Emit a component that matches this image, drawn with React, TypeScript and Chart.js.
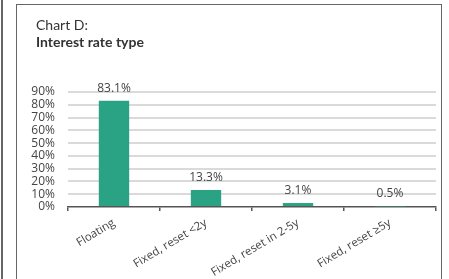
import React, { useEffect, useRef } from "react";
import { Chart, registerables } from "chart.js";

Chart.register(...registerables);

const categories = ["Floating", "Fixed, reset <2y", "Fixed, reset in 2-5y", "Fixed, reset \u22655y"];
const shares = [83.1, 13.3, 3.1, 0.5];
const yTicks = [0, 10, 20, 30, 40, 50, 60, 70, 80, 90];
const titleLine = "Chart D:";
const subtitleLine = "Interest rate type";

const FONT = "'Open Sans', 'DejaVu Sans', sans-serif";
const TITLE_FONT = "Lato, 'Open Sans', sans-serif";
const TEXT = "#444444";

const valueLabels = {
  id: "valueLabels",
  afterDatasetsDraw(chart: any) {
    const ctx = chart.ctx;
    const meta = chart.getDatasetMeta(0);
    ctx.save();
    ctx.font = `12px ${FONT}`;
    ctx.fillStyle = TEXT;
    ctx.textAlign = "center";
    ctx.textBaseline = "middle";
    meta.data.forEach((bar: any, i: number) => {
      ctx.fillText(shares[i].toFixed(1) + "%", bar.x, bar.y - 12.5);
    });
    ctx.restore();
  },
};

export default function App() {
  const ref = useRef<HTMLCanvasElement>(null);
  useEffect(() => {
    if (!ref.current) return;
    const chart = new Chart(ref.current, {
      type: "bar",
      data: {
        labels: categories,
        datasets: [
          {
            data: shares,
            backgroundColor: "#29a383",
            borderWidth: 0,
            barPercentage: 0.33,
            categoryPercentage: 1,
          },
        ],
      },
      plugins: [valueLabels],
      options: {
        responsive: false,
        animation: false,
        layout: { padding: { left: 0, right: 13, top: 92, bottom: 0 } },
        plugins: {
          legend: { display: false },
          tooltip: { enabled: false },
          title: { display: false },
        },
        scales: {
          x: {
            offset: true,
            grid: {
              offset: true,
              drawOnChartArea: false,
              drawTicks: true,
              tickLength: 4,
              color: "#555555",
              lineWidth: 1.5,
            },
            border: { display: true, color: "#555555", width: 1.5 },
            ticks: {
              color: TEXT,
              font: { family: FONT, size: 11.5 },
              minRotation: 31,
              maxRotation: 31,
              autoSkip: false,
              padding: 5,
            },
            afterFit(scale: any) {
              scale.height = 72;
            },
          },
          y: {
            min: 0,
            max: 90,
            grid: {
              color: (c: any) => (c.tick && c.tick.value === 0 ? "rgba(0,0,0,0)" : "#dadada"),
              lineWidth: 2,
              drawTicks: false,
            },
            border: { display: false },
            ticks: {
              stepSize: 10,
              autoSkip: false,
              color: TEXT,
              padding: 13,
              font: { family: FONT, size: 12 },
              callback: (v: any) => (yTicks.includes(Number(v)) ? v + "%" : ""),
            },
            afterFit(scale: any) {
              scale.width = 68;
            },
          },
        },
      },
    });
    return () => chart.destroy();
  }, []);

  return (
    <div style={{ position: "absolute", left: 0, top: 0, width: 449, height: 279, background: "#fff", overflow: "hidden" }}>
      <div style={{ position: "absolute", left: 1, top: 0, width: 1.5, height: 279, background: "#666" }} />
      <div
        style={{
          position: "absolute",
          left: 16,
          top: 4,
          width: 424,
          height: 290,
          borderLeft: "1.5px solid #666",
          borderTop: "1.5px solid #666",
          borderRight: "1.5px solid #666",
        }}
      />
      <canvas ref={ref} width={449} height={279} style={{ position: "absolute", left: 0, top: 0 }} />
      <div
        style={{
          position: "absolute",
          left: 36,
          top: 15.5,
          fontFamily: TITLE_FONT,
          fontSize: 14,
          lineHeight: "18px",
          color: "#333",
          whiteSpace: "nowrap",
        }}
      >
        {titleLine}
      </div>
      <div
        style={{
          position: "absolute",
          left: 36,
          top: 33,
          fontFamily: TITLE_FONT,
          fontSize: 14,
          lineHeight: "18px",
          fontWeight: "bold",
          color: "#333",
          whiteSpace: "nowrap",
        }}
      >
        {subtitleLine}
      </div>
    </div>
  );
}
